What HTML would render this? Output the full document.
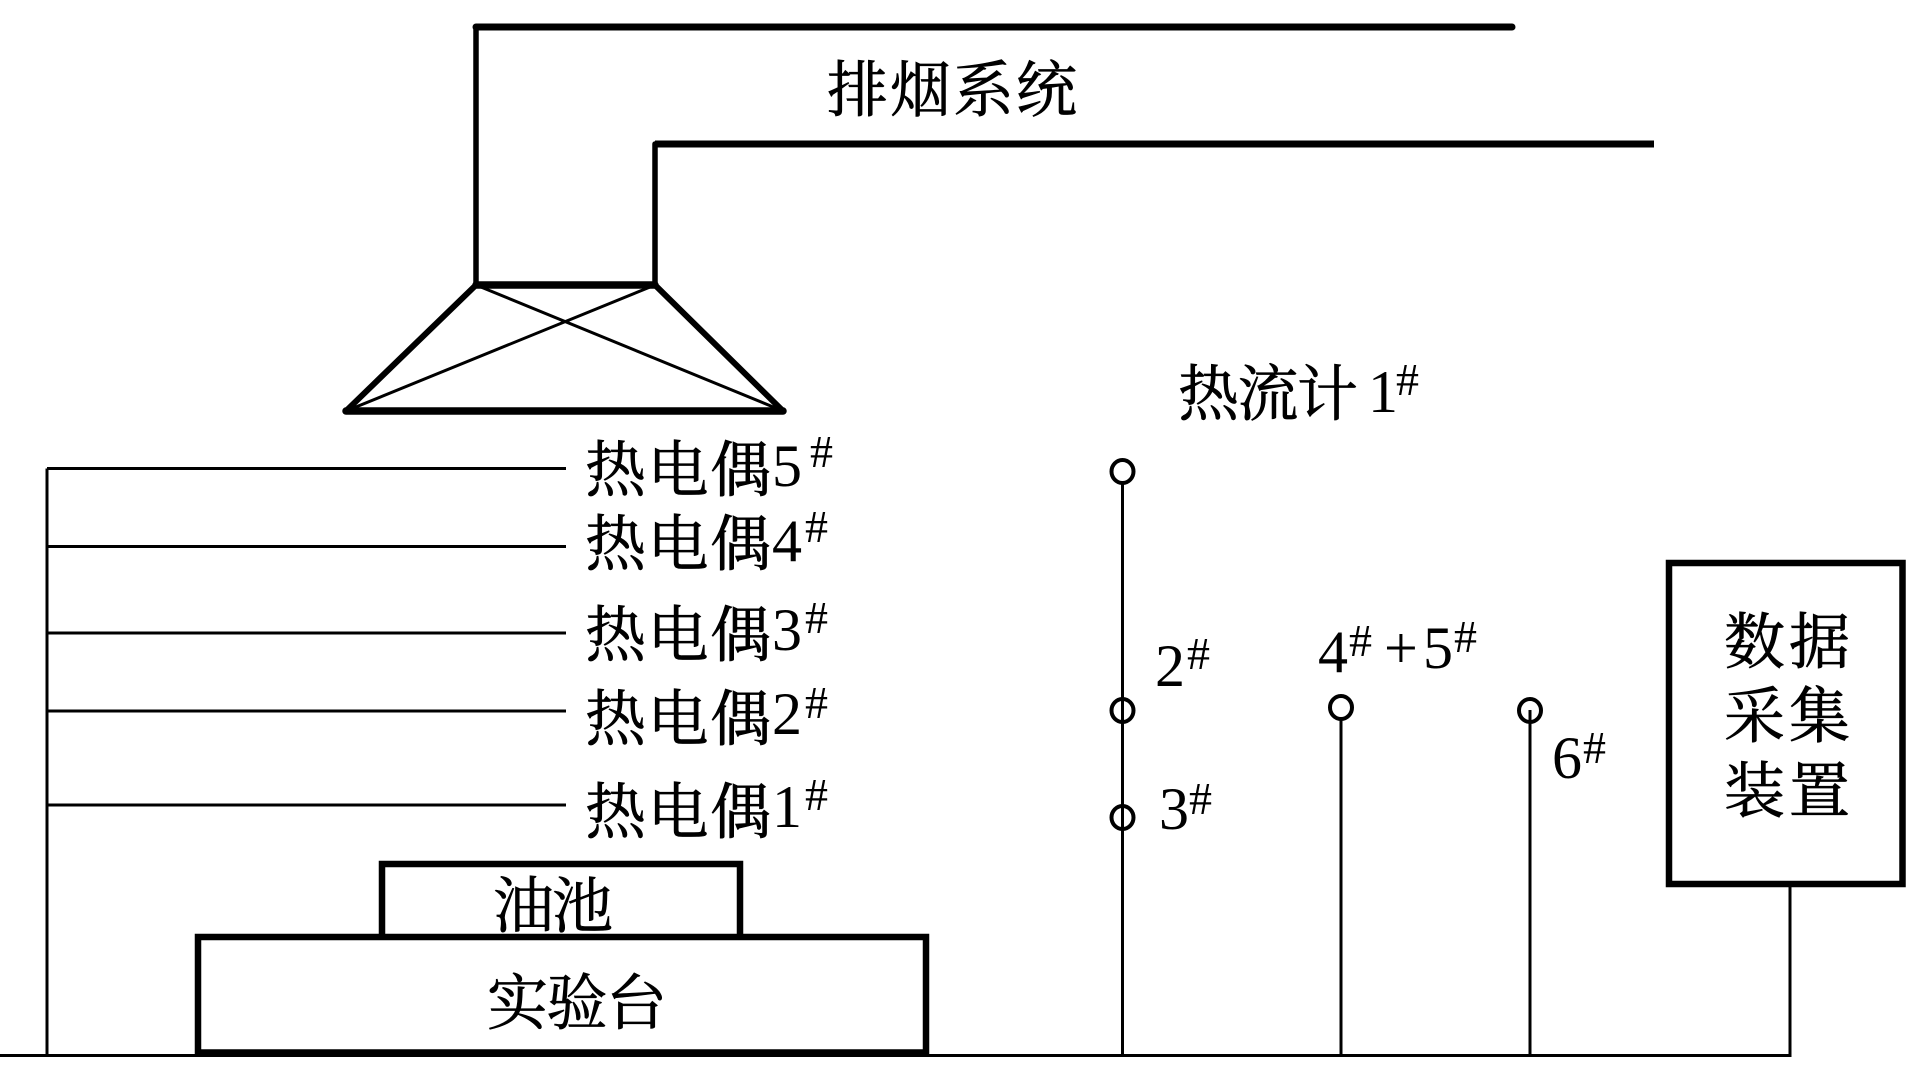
<!DOCTYPE html>
<html lang="zh">
<head>
<meta charset="utf-8">
<style>
html,body{margin:0;padding:0;background:#fff;width:1906px;height:1068px;overflow:hidden}
svg{display:block}
.c{font-family:"Liberation Serif","Noto Serif CJK SC",serif;font-size:61px;fill:#000;stroke:#000;stroke-width:.7px}
.d{font-family:"Liberation Serif",serif;font-size:60px;fill:#000}
.h{font-family:"Liberation Serif",serif;font-size:46px;fill:#000}
</style>
</head>
<body>
<svg width="1906" height="1068" viewBox="0 0 1906 1068" xmlns="http://www.w3.org/2000/svg">
<rect width="1906" height="1068" fill="#fff"/>
<g stroke="#000" fill="none" stroke-linecap="round">
  <!-- duct -->
  <path d="M476 27H1512" stroke-width="7"/>
  <path d="M655 144H1654" stroke-width="7" stroke-linecap="butt"/>
  <path d="M476 27V285M655 144V285" stroke-width="5.500"/>
  <path d="M476 285H655" stroke-width="7.500"/>
  <!-- hood -->
  <path d="M476 285L346 411M655 285L783 411" stroke-width="6"/>
  <path d="M346 411H783" stroke-width="7.500"/>
  <path d="M476 285L783 411M655 285L346 411" stroke-width="3"/>
</g>
<g stroke="#000" fill="none" stroke-width="3">
  <!-- thermocouples -->
  <path d="M47 468.500V1055M47 468.500H566M47 546.500H566M47 633H566M47 711H566M47 805H566"/>
  <!-- ground -->
  <path d="M0 1055.500H1790V884"/>
  <!-- heat flux -->
  <path d="M1122.500 482V1055M1341 719V1055M1530 710V1055"/>
  <ellipse cx="1122.500" cy="471.500" rx="11" ry="11.500" stroke-width="4"/>
  <ellipse cx="1122.500" cy="710.500" rx="11" ry="11.500" stroke-width="4"/>
  <ellipse cx="1122.500" cy="817.500" rx="11" ry="11.500" stroke-width="4"/>
  <ellipse cx="1341" cy="707.500" rx="11" ry="11.500" stroke-width="4"/>
  <ellipse cx="1530" cy="710.500" rx="11" ry="11.500" stroke-width="4"/>
</g>
<g stroke="#000" fill="none" stroke-width="6.500">
  <path d="M382 937V864H740V937"/>
  <rect x="198" y="937" width="728" height="115.500" fill="#fff"/>
  <rect x="1669" y="563" width="233.500" height="321" fill="#fff"/>
</g>

<text class="c" x="827" y="111" textLength="250">排烟系统</text>
<text class="c" x="1178" y="415" textLength="180">热流计</text>
<text class="d" x="1368" y="412">1</text>
<text class="h" x="1396" y="395">#</text>

<text class="c" x="585" y="491" textLength="186">热电偶</text>
<text class="d" x="772" y="486">5</text>
<text class="h" x="810" y="467">#</text>

<text class="c" x="585" y="565" textLength="186">热电偶</text>
<text class="d" x="772" y="561">4</text>
<text class="h" x="805" y="542">#</text>

<text class="c" x="585" y="656" textLength="186">热电偶</text>
<text class="d" x="772" y="650">3</text>
<text class="h" x="805" y="633">#</text>

<text class="c" x="585" y="740" textLength="186">热电偶</text>
<text class="d" x="772" y="734">2</text>
<text class="h" x="805" y="718">#</text>

<text class="c" x="585" y="833" textLength="186">热电偶</text>
<text class="d" x="772" y="827">1</text>
<text class="h" x="805" y="810">#</text>

<text class="c" x="493" y="927" textLength="120">油池</text>
<text class="c" x="487" y="1024" textLength="180">实验台</text>

<text class="d" x="1155" y="686">2</text>
<text class="h" x="1187" y="669">#</text>
<text class="d" x="1159" y="829">3</text>
<text class="h" x="1189" y="814">#</text>
<text class="d" x="1318" y="672">4</text>
<text class="h" x="1349" y="656">#</text>
<text class="d" x="1384" y="668">+</text>
<text class="d" x="1423" y="668">5</text>
<text class="h" x="1454" y="652">#</text>
<text class="d" x="1552" y="778">6</text>
<text class="h" x="1583" y="763">#</text>

<text class="c" x="1724" y="663" textLength="126">数据</text>
<text class="c" x="1724" y="737" textLength="126">采集</text>
<text class="c" x="1724" y="812" textLength="126">装置</text>
</svg>
</body>
</html>
